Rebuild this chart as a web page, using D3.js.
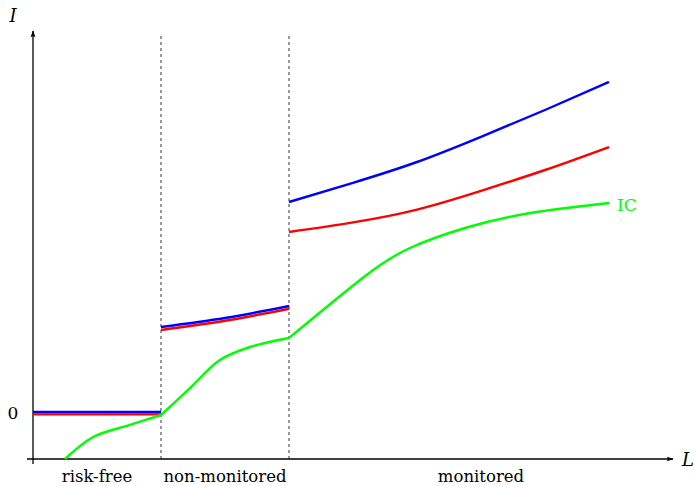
<!DOCTYPE html>
<html><head><meta charset="utf-8">
<script src="https://cdn.jsdelivr.net/npm/d3@7"></script>
<style>body{margin:0;background:#fff}svg text{font-family:"DejaVu Serif","Liberation Serif",serif}</style>
</head><body>
<svg id="c" width="697" height="486"></svg>
<script>
// Data (x in abstract L units, y in abstract I units)
const regimes = ["risk-free", "non-monitored", "monitored"];
const regimeBounds = [0, 2, 4, 10];
const regimeLabelX = [1, 3, 7];
const yTickLabels = ["0"];
const blueSeg1 = [[0, 0.0], [2, 0.0]];
const redSeg1 = [[0, -0.06], [2, -0.06]];
const blueSeg2 = [[2, 2.125], [3, 2.35], [4, 2.65]];
const redSeg2 = [[2, 2.05], [3, 2.28], [4, 2.58]];
const blueSeg3 = [[4, 5.25], [5, 5.73], [6, 6.25], [7, 6.88], [8, 7.55], [9, 8.25]];
const redSeg3 = [[4, 4.5], [5, 4.74], [6, 5.06], [7, 5.53], [8, 6.05], [9, 6.625]];
const greenSeg1 = [[0.5, -1.175], [0.94, -0.625], [1.5, -0.33], [2, -0.075]];
const greenSeg2 = [[2, -0.075], [2.46, 0.61], [2.92, 1.3], [3.39, 1.625], [4, 1.85]];
const greenSeg3 = [[4, 1.85], [5.19, 3.4], [5.89, 4.1], [6.75, 4.6], [7.77, 4.975], [9, 5.225]];

const svg = d3.select("#c");
const x = d3.scaleLinear().domain([0, 10]).range([33, 673]);
const y = d3.scaleLinear().domain([-1.175, 9.425]).range([459, 35]);

const defs = svg.append("defs");
defs.append("marker").attr("id","arr").attr("viewBox","0 0 10 10").attr("refX",9).attr("refY",5)
  .attr("markerWidth",7).attr("markerHeight",7).attr("orient","auto-start-reverse").attr("markerUnits","userSpaceOnUse")
  .append("path").attr("d","M0,1.5 L10,5 L0,8.5 L2,5 Z").attr("fill","#000");

// dashed regime separators
[regimeBounds[1], regimeBounds[2]].forEach(b => {
  svg.append("line").attr("x1", x(b)).attr("x2", x(b)).attr("y1", y(-1.175)).attr("y2", 33)
    .attr("stroke","#555").attr("stroke-width",1.2).attr("stroke-dasharray","3,3");
});

// axes
svg.append("line").attr("x1", 27).attr("x2", x(10)).attr("y1", y(-1.175)).attr("y2", y(-1.175))
  .attr("stroke","#000").attr("stroke-width",1.3).attr("marker-end","url(#arr)");
svg.append("line").attr("x1", x(0)).attr("x2", x(0)).attr("y1", y(-1.175) + 5).attr("y2", 31)
  .attr("stroke","#000").attr("stroke-width",1.3).attr("marker-end","url(#arr)");

const line = d3.line().x(d => x(d[0])).y(d => y(d[1])).curve(d3.curveCatmullRom.alpha(0.5));
const smooth = d3.line().x(d => x(d[0])).y(d => y(d[1])).curve(d3.curveNatural);
function draw(data, color, gen) {
  svg.append("path").datum(data).attr("d", gen || line).attr("fill","none").attr("stroke",color).attr("stroke-width",2.4);
}
draw(redSeg1, "#ff0000"); draw(blueSeg1, "#0000ff");
draw(redSeg2, "#ff0000"); draw(blueSeg2, "#0000ff");
draw(redSeg3, "#ff0000", smooth); draw(blueSeg3, "#0000ff", smooth);
draw(greenSeg1, "#00ff00"); draw(greenSeg2, "#00ff00"); draw(greenSeg3, "#00ff00", smooth);

// labels
svg.append("text").attr("x", 13).attr("y", 22).attr("font-size", 18).attr("font-style","italic").attr("text-anchor","middle").text("I");
svg.append("text").attr("x", 688).attr("y", 466).attr("font-size", 18).attr("font-style","italic").attr("text-anchor","middle").text("L");
svg.append("text").attr("x", 13).attr("y", y(0) + 7).attr("font-size", 17).attr("text-anchor","middle").text(yTickLabels[0]);
regimes.forEach((r, i) => {
  svg.append("text").attr("x", x(regimeLabelX[i])).attr("y", 482).attr("font-size", 16.5).attr("text-anchor","middle").text(r);
});
const last = greenSeg3[greenSeg3.length - 1];
svg.append("text").attr("x", x(last[0]) + 8).attr("y", y(last[1]) + 8).attr("font-size", 17).attr("fill","#00ff00").text("IC");
</script>
</body></html>
